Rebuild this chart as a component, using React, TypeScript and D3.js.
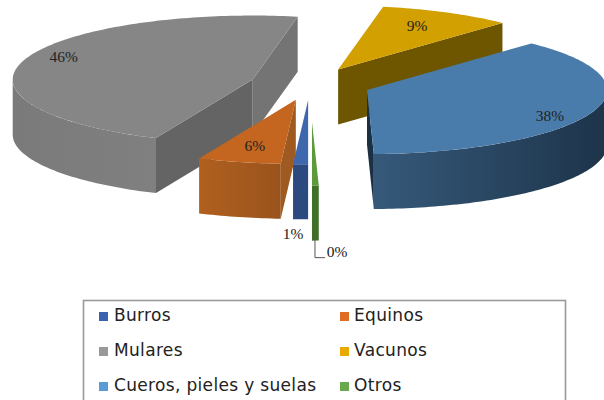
import React from "react";
import * as d3 from "d3";

// Share of each category, in percent
const categories = ["Burros", "Equinos", "Mulares", "Vacunos", "Cueros, pieles y suelas", "Otros"];
const shares = [1, 5.6, 46.4, 9, 37.55, 0.45];

// How far each slice is pulled away from the pie's centre
const explosion = [60, 60, 60, 62, 61, 140];

const topColors = ["#3f67ad", "#c4661f", "#868686", "#d2a000", "#4a7cab", "#5c9a3c"];
const swatchColors = ["#3a62b0", "#e06c24", "#999999", "#e8aa00", "#5a9bd5", "#6aa84f"];
const wallFrom = ["#2c4a80", "#b0601f", "#7a7a7a", "#6e5600", "#36597a", "#3f6f28"];
const wallTo = ["#2c4a80", "#9a531c", "#808080", "#6e5600", "#1d344a", "#3f6f28"];
const startFaceColors = ["#2c4a80", "#9f5a22", "#646464", "#6e5600", "#1d344a", "#3f6f28"];
const endFaceColors = ["#2c4a80", "#9f5a22", "#747474", "#6e5600", "#1b3044", "#3f6f28"];

// Label anchors: pixel offset from each slice's apex
const labelOffsets: [number, number][] = [
  [-15, 135], [-41, 48], [-189, -21], [79, -42], [183, 27], [25, 132],
];

const WIDTH = 604;
const HEIGHT = 400;
const cx = 310;
const cy = 84.3;
const rx = 240;
const ry = 64;
const depth = 55;
const squash = ry / rx;
const TAU = 2 * Math.PI;

const pie = d3
  .pie<number>()
  .sort(null)
  .value((d) => d)
  .startAngle(Math.PI)
  .endAngle(3 * Math.PI);

const slices = pie(shares).map((s, i) => {
  const mid = (s.startAngle + s.endAngle) / 2;
  const ax = cx + explosion[i] * Math.sin(mid);
  const ay = cy - explosion[i] * squash * Math.cos(mid);
  return { i, a0: s.startAngle, a1: s.endAngle, ax, ay };
});

const rimX = (ax: number, a: number) => ax + rx * Math.sin(a);
const rimY = (ay: number, a: number) => ay - ry * Math.cos(a);
const line = d3.line();

function rim(ax: number, ay: number, a0: number, a1: number, dy = 0): [number, number][] {
  const n = Math.max(2, Math.ceil((a1 - a0) / 0.02));
  return d3.range(n + 1).map((k) => {
    const a = a0 + ((a1 - a0) * k) / n;
    return [rimX(ax, a), rimY(ay, a) + dy] as [number, number];
  });
}

function Slice({ s }: { s: (typeof slices)[number] }) {
  const { i, a0, a1, ax, ay } = s;
  const face = (a: number) =>
    line([
      [ax, ay],
      [rimX(ax, a), rimY(ay, a)],
      [rimX(ax, a), rimY(ay, a) + depth],
      [ax, ay + depth],
    ]) + "Z";
  // The curved outer wall only shows on the half of the rim nearest the viewer
  const turn = a0 >= TAU ? TAU : 0;
  const w0 = Math.max(a0 - turn, Math.PI / 2);
  const w1 = Math.min(a1 - turn, (3 * Math.PI) / 2);
  const wall =
    w1 > w0
      ? line([...rim(ax, ay, w0, w1), ...rim(ax, ay, w0, w1, depth).reverse()]) + "Z"
      : null;
  return (
    <g>
      {Math.sin(a0) < -1e-6 && <path d={face(a0)} fill={startFaceColors[i]} />}
      {Math.sin(a1) > 1e-6 && <path d={face(a1)} fill={endFaceColors[i]} />}
      {wall && <path d={wall} fill={`url(#wall-${i})`} />}
      <path d={line([[ax, ay], ...rim(ax, ay, a0, a1)]) + "Z"} fill={topColors[i]} />
    </g>
  );
}

// Far slices first so nearer ones paint over them
const paintOrder = [3, 2, 4, 1, 0, 5];
const percent = (v: number) => `${d3.format(".0f")(v)}%`;

const legendX = d3.scaleOrdinal<number, number>().domain([0, 1]).range([99, 340]);
const legendY = d3.scalePoint<number>().domain([0, 1, 2]).range([316, 386]);

export default function App() {
  const other = slices[5];
  return (
    <svg
      width={WIDTH}
      height={HEIGHT}
      viewBox={`0 0 ${WIDTH} ${HEIGHT}`}
      style={{ position: "absolute", left: 0, top: 0, background: "#fff" }}
    >
      <defs>
        {categories.map((_, i) => (
          <linearGradient key={i} id={`wall-${i}`} x1="0" x2="1" y1="0" y2="0">
            <stop offset="0" stopColor={wallFrom[i]} />
            <stop offset="1" stopColor={wallTo[i]} />
          </linearGradient>
        ))}
      </defs>

      {paintOrder.map((i) => (
        <Slice key={i} s={slices[i]} />
      ))}

      <path
        d={
          line([
            [other.ax + 3, other.ay + 116],
            [other.ax + 3, other.ay + 136],
            [other.ax + 13, other.ay + 136],
          ]) ?? ""
        }
        fill="none"
        stroke="#555"
        strokeWidth={1}
      />

      <g fontFamily="'Liberation Serif', serif" fontSize={15.5} fill="#222" textAnchor="middle">
        {slices.map((s) => (
          <text
            key={s.i}
            x={s.ax + labelOffsets[s.i][0]}
            y={s.ay + labelOffsets[s.i][1]}
            dominantBaseline="middle"
          >
            {percent(shares[s.i])}
          </text>
        ))}
      </g>

      <rect x={83.5} y={300.5} width={482} height={120} fill="#fff" stroke="#9a9a9a" strokeWidth={1.6} />

      <g fontFamily="'DejaVu Sans', sans-serif" fontSize={17} letterSpacing={0.33} fill="#222">
        {categories.map((c, i) => {
          const col = i % 2;
          const row = Math.floor(i / 2);
          const x = legendX(col);
          const y = legendY(row) as number;
          return (
            <g key={c}>
              <rect x={x} y={y - 4} width={9} height={9} fill={swatchColors[i]} />
              <text x={x + (col ? 14 : 15)} y={y} dominantBaseline="middle">
                {c}
              </text>
            </g>
          );
        })}
      </g>
    </svg>
  );
}
